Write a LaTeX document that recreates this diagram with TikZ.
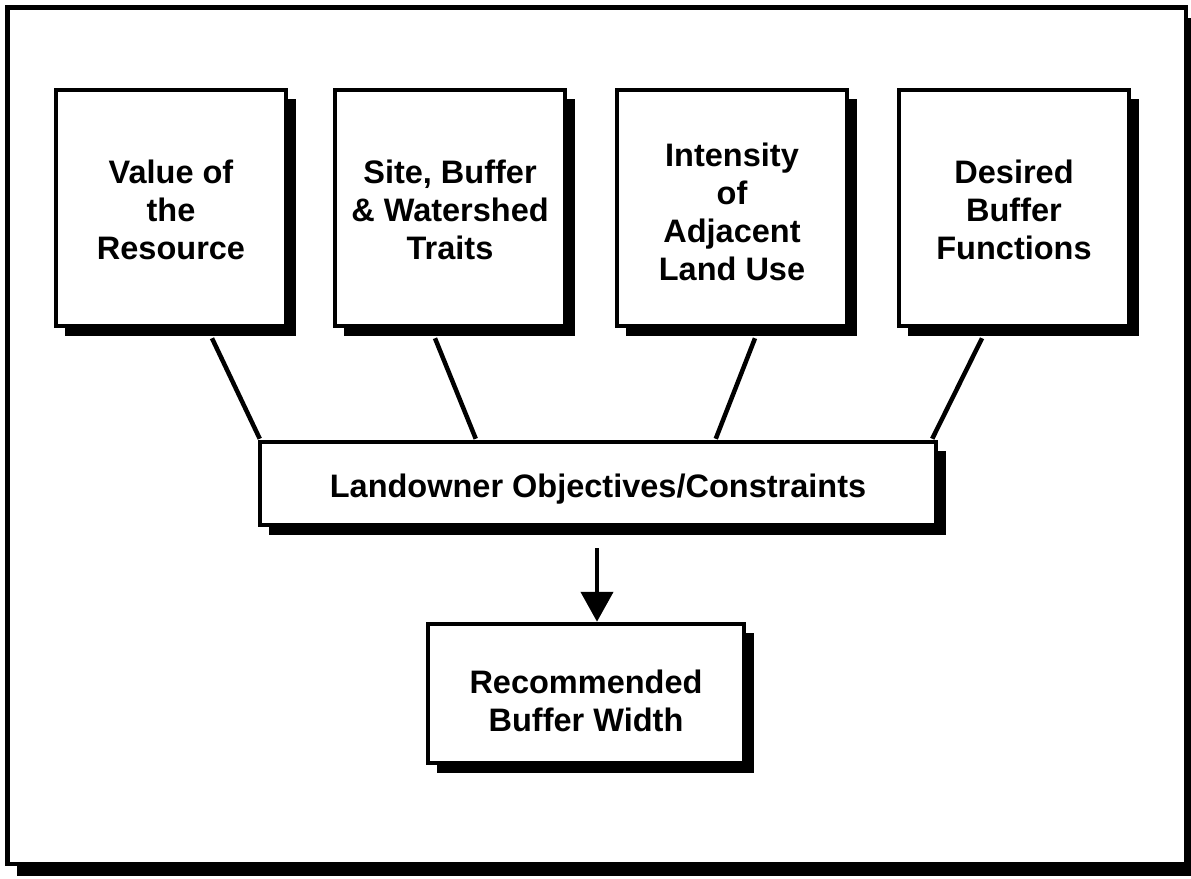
\documentclass[tikz,border=0pt]{standalone}
\usepackage{fontspec}
\setmainfont{Liberation Sans}
\usetikzlibrary{shadows,arrows.meta,calc}
\newcommand\boxtxt[2]{\raisebox{#1}[\height][\depth]{\begin{tabular}{@{}c@{}}#2\end{tabular}}}
\tikzset{
  box/.style={draw=black, line width=4.5pt, fill=white, align=center,
    font=\fontsize{32.5}{38}\selectfont\bfseries, inner sep=0pt,
    general shadow={shadow xshift=9pt, shadow yshift=-9pt, fill=black, draw=black, line width=1pt}},
  topbox/.style={box, minimum width=230pt, minimum height=236pt},
  conn/.style={line width=4.5pt},
  arr/.style={line width=4.5pt, -{Triangle[width=32pt,length=30pt]}}
}
\begin{document}
\begin{tikzpicture}[x=1pt,y=-1pt]
\useasboundingbox (0,0) rectangle (1191,878);
\clip (0,0) rectangle (1191,878);
% outer frame
\node[draw=black, line width=4.5pt, fill=white, inner sep=0pt,
  general shadow={shadow xshift=10pt, shadow yshift=-11pt, fill=black, draw=black, line width=1pt},
  minimum width=1178.5pt, minimum height=856.5pt] (frame) at (596.75,435.75) {};
% top boxes
\node[topbox] (v1) at (171,208) {\boxtxt{-6pt}{Value of\\the\\Resource}};
\node[topbox] (v2) at (450,208) {\boxtxt{-6pt}{Site, Buffer\\\& Watershed\\Traits}};
\node[topbox] (v3) at (732,208) {\boxtxt{-8pt}{Intensity\\of\\Adjacent\\Land Use}};
\node[topbox] (v4) at (1014,208) {\boxtxt{-6pt}{Desired\\Buffer\\Functions}};
% landowner
\node[box, minimum width=676pt, minimum height=83pt] (lo) at (598,483.5) {\boxtxt{-6pt}{Landowner Objectives/Constraints}};
% recommended
\node[box, minimum width=316pt, minimum height=139pt] (rb) at (586,693.5) {\boxtxt{-11pt}{Recommended\\Buffer Width}};
% connectors
\draw[conn] ($(v1.south)+(41,10)$) -- ($(lo.north west)+(2,-1)$);
\draw[conn] ($(v2.south)+(-15,10)$) -- ($(lo.north west)+(218,-1)$);
\draw[conn] ($(v3.south)+(23,10)$) -- ($(lo.north west)+(458,-1)$);
\draw[conn] ($(v4.south)+(-32,10)$) -- ($(lo.north east)+(-6,-1)$);
% arrow
\draw[arr] ($(lo.south)+(-1,21)$) -- (rb.north -| {$(lo.south)+(-1,0)$});
\end{tikzpicture}
\end{document}
